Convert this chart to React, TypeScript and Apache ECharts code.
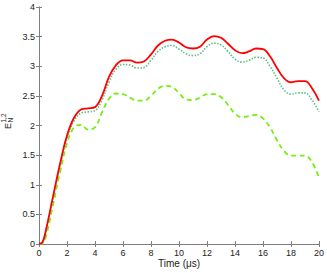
import React, { useEffect, useRef } from "react";
import * as echarts from "echarts";

const times = [0, 0.25, 0.5, 1, 1.5, 2, 2.5, 3, 3.5, 4, 4.5, 5, 5.5, 6, 6.5, 7, 7.5, 8, 8.5, 9, 9.5, 10, 10.5, 11, 11.5, 12, 12.5, 13, 13.5, 14, 14.5, 15, 15.5, 16, 16.5, 17, 17.5, 18, 18.5, 19, 19.5, 20];

const redSolid = [0, 0.03, 0.24, 0.8, 1.35, 1.83, 2.13, 2.27, 2.29, 2.31, 2.5, 2.82, 3.02, 3.1, 3.1, 3.06, 3.08, 3.2, 3.35, 3.43, 3.45, 3.4, 3.32, 3.3, 3.33, 3.45, 3.51, 3.48, 3.38, 3.27, 3.22, 3.25, 3.3, 3.29, 3.17, 2.97, 2.8, 2.73, 2.75, 2.75, 2.63, 2.42];

const greenDotted = [0, 0.03, 0.23, 0.78, 1.33, 1.79, 2.08, 2.21, 2.23, 2.25, 2.43, 2.73, 2.95, 3.03, 3.02, 2.97, 2.98, 3.1, 3.25, 3.33, 3.35, 3.29, 3.21, 3.18, 3.21, 3.33, 3.39, 3.36, 3.25, 3.12, 3.07, 3.1, 3.15, 3.14, 3.0, 2.8, 2.6, 2.53, 2.55, 2.55, 2.43, 2.23];

const greenDashed = [0, 0.01, 0.13, 0.66, 1.21, 1.7, 1.97, 2.01, 1.93, 1.97, 2.22, 2.45, 2.54, 2.53, 2.47, 2.42, 2.42, 2.5, 2.62, 2.67, 2.65, 2.55, 2.44, 2.43, 2.47, 2.53, 2.53, 2.48, 2.35, 2.2, 2.14, 2.16, 2.18, 2.12, 1.97, 1.75, 1.57, 1.49, 1.49, 1.49, 1.38, 1.12];

const xLabel = "Time (μs)";

const pair = (ys: number[]) => times.map((t, i) => [t, ys[i]]);

export default function App() {
  const ref = useRef<HTMLDivElement>(null);
  useEffect(() => {
    if (!ref.current) return;
    const chart = echarts.init(ref.current, null, { renderer: "svg" });
    const axisColor = "#7f7f7f";
    const font = "Liberation Sans, Arial, sans-serif";
    const common = {
      type: "value" as const,
      axisLine: { show: true, lineStyle: { color: axisColor, width: 1 } },
      axisTick: { show: true, inside: true, length: 3, lineStyle: { color: axisColor } },
      splitLine: { show: false },
    };
    chart.setOption({
      animation: false,
      grid: { left: 39, right: 8, top: 7, bottom: 29, containLabel: false },
      xAxis: [
        {
          ...common,
          position: "bottom",
          min: 0,
          max: 20,
          interval: 2,
          axisLabel: { fontSize: 9, color: "#222", margin: 4, fontFamily: font },
        },
        {
          ...common,
          position: "top",
          min: 0,
          max: 20,
          interval: 2,
          axisLabel: { show: false },
        },
      ],
      yAxis: [
        {
          ...common,
          position: "left",
          min: 0,
          max: 4,
          interval: 0.5,
          axisLabel: { fontSize: 9, color: "#222", margin: 4, fontFamily: font },
        },
        {
          ...common,
          position: "right",
          min: 0,
          max: 4,
          interval: 0.5,
          axisLabel: { show: false },
        },
      ],
      series: [
        {
          type: "line",
          data: pair(redSolid),
          showSymbol: false,
          smooth: 0.4,
          lineStyle: { color: "#ff0000", width: 1.8, type: "solid" },
          z: 4,
        },
        {
          type: "line",
          data: pair(greenDotted),
          showSymbol: false,
          smooth: 0.4,
          lineStyle: { color: "#5cbf86", width: 1.6, type: [1.5, 1.5] },
          z: 3,
        },
        {
          type: "line",
          data: pair(greenDashed),
          showSymbol: false,
          smooth: 0.4,
          lineStyle: { color: "#77ee11", width: 1.8, type: [5, 3.5] },
          z: 2,
        },
      ],
      graphic: [
        {
          type: "text",
          left: 158,
          top: 258,
          style: { text: xLabel, fill: "#222", font: "10px " + font },
        },
        {
          type: "group",
          x: 12,
          y: 129,
          rotation: Math.PI / 2,
          children: [
            {
              type: "text",
              x: 0,
              y: 0,
              style: { text: "E", font: "9px " + font, fill: "#222", verticalAlign: "bottom" },
            },
            {
              type: "text",
              x: 6.5,
              y: -5,
              style: { text: "1,2", font: "6.5px " + font, fill: "#222", verticalAlign: "bottom" },
            },
            {
              type: "text",
              x: 6.5,
              y: 1.5,
              style: { text: "N", font: "6.5px " + font, fill: "#222", verticalAlign: "bottom" },
            },
          ],
        },
      ],
    });
    return () => chart.dispose();
  }, []);
  return (
    <div
      ref={ref}
      style={{ position: "fixed", left: 0, top: 0, width: 327, height: 273, background: "#fff" }}
    />
  );
}
